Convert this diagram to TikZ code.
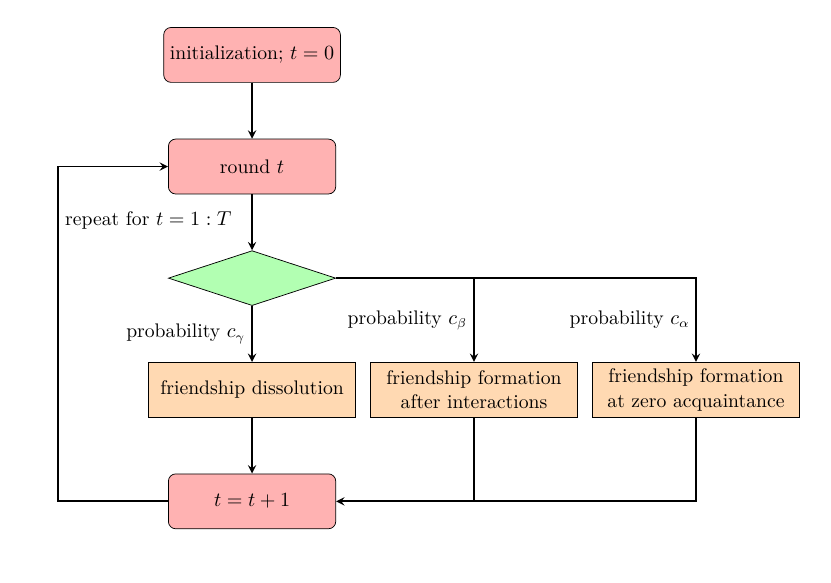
\documentclass[tikz,border=0pt]{standalone}
\usepackage{amsmath, amssymb}
\usepackage{xcolor}
\usepackage{tikz}
\usetikzlibrary{shapes.geometric, arrows, positioning, calc}

\begin{document}
\begin{tikzpicture}[
    font=\fontsize{10.7}{13.4}\selectfont,
    node distance=1.07cm and 0.27cm,
    roundbox/.style={draw, rectangle, rounded corners, minimum height=1.05cm,
      minimum width=3.2cm, align=center, fill=red!30},
    choice/.style={draw, diamond, minimum height=1.05cm, minimum width=3.2cm,
      inner sep=0pt, fill=green!30},
    eventbox/.style={draw, rectangle, minimum height=1.05cm,
      minimum width=3.96cm, align=center, fill=orange!30},
    arrow/.style={line width=1pt,->,>=stealth}
]
\useasboundingbox (-4.82,1.05) rectangle (11.07,-10.08);
\node[roundbox, minimum width=3.35cm] (init) at (0,0) {initialization; $t=0$};
\node[roundbox, below=of init] (round) {round $t$};
\node[choice, below=of round] (pick) {};
\node[eventbox, below=of pick] (dissolve) {friendship dissolution};
\node[eventbox, right=of dissolve] (after) {friendship formation\\after interactions};
\node[eventbox, right=of after] (zero) {friendship formation\\at zero acquaintance};
\node[roundbox, below=of dissolve] (incr) {$t=t+1$};

\draw[arrow] (init) -- (round);
\draw[arrow] (round) -- (pick);
\draw[arrow] (pick) -- node[left] {probability $c_\gamma$} (dissolve);
\draw[arrow] (pick.east) -| (zero.north);
\draw[arrow] (after.north |- pick.east) -- node[left] {probability $c_\beta$} (after.north);
\path (zero.north |- pick.east) -- node[left] {probability $c_\alpha$} (zero.north);
\draw[arrow] (dissolve) -- (incr);
\draw[arrow] (zero.south) |- (incr.east);
\draw[line width=1pt] (after.south) -- (after.south |- incr.east);
\draw[arrow] (incr.west) -- ++(-2.1cm,0) |- node[pos=0.42, right] {repeat for $t=1:T$} (round.west);
\end{tikzpicture}
\end{document}
